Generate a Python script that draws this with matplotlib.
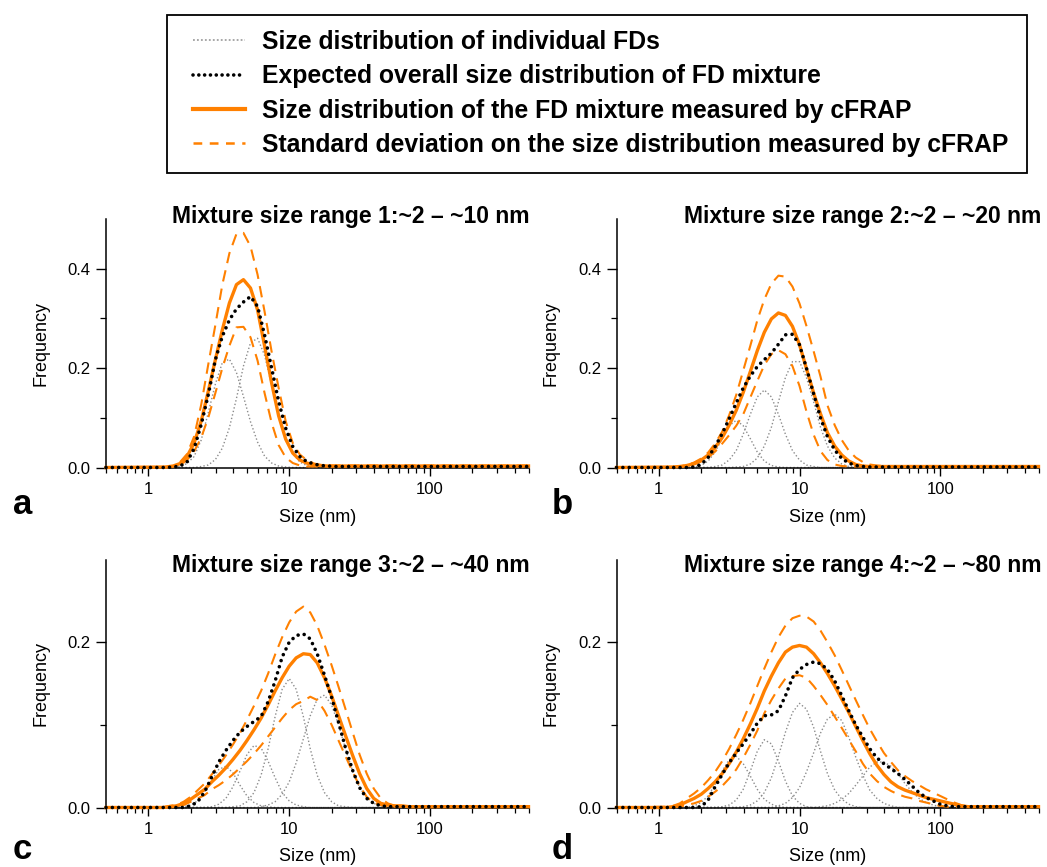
import matplotlib
matplotlib.use("Agg")
import matplotlib.pyplot as plt
from matplotlib.ticker import LogLocator, NullFormatter, FixedLocator
from matplotlib.lines import Line2D
from matplotlib.patches import Rectangle

plt.rcParams['font.family'] = ['Liberation Sans', 'DejaVu Sans']

ORANGE = '#FF8000'
GRAY = '#8C8C8C'

# ---------------- panel a: mixture size range 1 ----------------
SIZES_A = [1.33, 1.50, 1.68, 1.88, 2.11, 2.37, 2.66, 2.99, 3.35, 3.76, 4.22, 4.73, 5.31,
           5.96, 6.68, 7.50, 8.41, 9.44, 10.6, 11.9, 13.3, 15.0, 16.8, 18.8, 21.1, 23.7]
A_FD1 = [0.000, 0.001, 0.002, 0.008, 0.022, 0.055, 0.110, 0.168, 0.211, 0.218, 0.191, 0.143, 0.092,
         0.051, 0.023, 0.009, 0.003, 0.001, 0, 0, 0, 0, 0, 0, 0, 0]
A_FD2 = [0, 0, 0, 0, 0, 0.002, 0.005, 0.016, 0.039, 0.080, 0.139, 0.204, 0.251,
         0.260, 0.226, 0.166, 0.108, 0.060, 0.028, 0.011, 0.004, 0.001, 0, 0, 0, 0]
A_EXPECTED = [0.000, 0.001, 0.003, 0.011, 0.038, 0.086, 0.146, 0.217, 0.264, 0.297, 0.319, 0.333, 0.344,
              0.324, 0.267, 0.200, 0.133, 0.079, 0.042, 0.022, 0.012, 0.007, 0.004, 0.003, 0.002, 0.002]
A_MEASURED = [0.001, 0.003, 0.008, 0.022, 0.049, 0.093, 0.153, 0.217, 0.277, 0.331, 0.368, 0.378, 0.361,
              0.317, 0.245, 0.170, 0.104, 0.057, 0.029, 0.015, 0.009, 0.005, 0.004, 0.003, 0.003, 0.003]
A_SD_HIGH = [0.001, 0.003, 0.011, 0.027, 0.062, 0.126, 0.207, 0.287, 0.368, 0.431, 0.470, 0.472, 0.445,
             0.388, 0.314, 0.233, 0.160, 0.093, 0.049, 0.026, 0.015, 0.008, 0.005, 0.004, 0.004, 0.004]
A_SD_LOW = [0.000, 0.002, 0.005, 0.015, 0.032, 0.060, 0.100, 0.150, 0.200, 0.245, 0.282, 0.283, 0.262,
            0.215, 0.150, 0.090, 0.045, 0.020, 0.009, 0.004, 0.002, 0.002, 0.002, 0.002, 0.002, 0.002]

# ---------------- panel b: mixture size range 2 ----------------
SIZES_B = [1.26, 1.41, 1.58, 1.78, 2.00, 2.24, 2.51, 2.82, 3.16, 3.55, 3.98, 4.47, 5.01, 5.62, 6.31,
           7.08, 7.94, 8.91, 10.0, 11.2, 12.6, 14.1, 15.8, 17.8, 20.0, 22.4, 25.1, 28.2, 31.6, 35.5, 39.8]
B_FD1 = [0, 0, 0, 0.001, 0.004, 0.013, 0.031, 0.058, 0.084, 0.095, 0.084, 0.058, 0.031, 0.013, 0.004,
         0.001, 0, 0, 0, 0, 0, 0, 0, 0, 0, 0, 0, 0, 0, 0, 0]
B_FD2 = [0, 0, 0, 0, 0, 0, 0.002, 0.005, 0.015, 0.034, 0.067, 0.107, 0.142, 0.156, 0.142,
         0.107, 0.067, 0.034, 0.015, 0.005, 0.002, 0, 0, 0, 0, 0, 0, 0, 0, 0, 0]
B_FD3 = [0, 0, 0, 0, 0, 0, 0, 0, 0, 0.001, 0.002, 0.007, 0.019, 0.043, 0.081,
         0.132, 0.181, 0.213, 0.213, 0.181, 0.132, 0.081, 0.043, 0.019, 0.007, 0.002, 0.001, 0, 0, 0, 0]
B_EXPECTED = [0, 0, 0, 0.001, 0.006, 0.020, 0.042, 0.068, 0.098, 0.130, 0.160, 0.184, 0.203, 0.217, 0.230,
              0.248, 0.267, 0.268, 0.247, 0.200, 0.148, 0.100, 0.062, 0.035, 0.018, 0.009, 0.004, 0.002,
              0.001, 0.001, 0.001]
B_MEASURED = [0.001, 0.002, 0.004, 0.008, 0.015, 0.025, 0.040, 0.060, 0.085, 0.115, 0.151, 0.193, 0.235,
              0.272, 0.299, 0.311, 0.306, 0.284, 0.247, 0.199, 0.150, 0.108, 0.070, 0.043, 0.025, 0.013,
              0.006, 0.003, 0.002, 0.002, 0.002]
B_SD_HIGH = [0.001, 0.002, 0.005, 0.010, 0.018, 0.030, 0.048, 0.072, 0.105, 0.146, 0.195, 0.245, 0.296,
             0.338, 0.370, 0.386, 0.384, 0.364, 0.330, 0.285, 0.234, 0.183, 0.125, 0.085, 0.055, 0.034,
             0.020, 0.011, 0.006, 0.004, 0.003]
B_SD_LOW = [0.001, 0.001, 0.003, 0.006, 0.012, 0.020, 0.032, 0.048, 0.065, 0.084, 0.107, 0.141, 0.174,
            0.206, 0.228, 0.236, 0.228, 0.204, 0.164, 0.113, 0.066, 0.033, 0.015, 0.006, 0.003, 0.002,
            0.002, 0.002, 0.002, 0.002, 0.002]

# ---------------- panel c: mixture size range 3 ----------------
SIZES_C = [1.26, 1.41, 1.58, 1.78, 2.00, 2.24, 2.51, 2.82, 3.16, 3.55, 3.98, 4.47, 5.01, 5.62, 6.31,
           7.08, 7.94, 8.91, 10.0, 11.2, 12.6, 14.1, 15.8, 17.8, 20.0, 22.4, 25.1, 28.2, 31.6, 35.5,
           39.8, 44.7, 50.1, 56.2, 63.1, 70.8]
C_FD1 = [0, 0, 0, 0.001, 0.003, 0.008, 0.019, 0.033, 0.046, 0.050, 0.042, 0.027, 0.014, 0.006, 0.002,
         0.001, 0, 0, 0, 0, 0, 0, 0, 0, 0, 0, 0, 0, 0, 0, 0, 0, 0, 0, 0, 0]
C_FD2 = [0, 0, 0, 0, 0, 0, 0, 0.001, 0.004, 0.011, 0.025, 0.044, 0.064, 0.075, 0.072,
         0.056, 0.036, 0.018, 0.008, 0.003, 0.001, 0, 0, 0, 0, 0, 0, 0, 0, 0, 0, 0, 0, 0, 0, 0]
C_FD3 = [0, 0, 0, 0, 0, 0, 0, 0, 0, 0, 0.001, 0.002, 0.007, 0.018, 0.039,
         0.071, 0.110, 0.143, 0.156, 0.143, 0.110, 0.071, 0.039, 0.018, 0.007, 0.002, 0.001,
         0, 0, 0, 0, 0, 0, 0, 0, 0]
C_FD4 = [0, 0, 0, 0, 0, 0, 0, 0, 0, 0, 0, 0, 0, 0.000, 0.001,
         0.003, 0.007, 0.016, 0.031, 0.054, 0.083, 0.111, 0.131, 0.136, 0.124, 0.100, 0.071,
         0.044, 0.024, 0.012, 0.005, 0.002, 0.001, 0, 0, 0]
C_EXPECTED = [0, 0, 0, 0.000, 0.002, 0.007, 0.019, 0.037, 0.055, 0.069, 0.081, 0.091, 0.098, 0.104, 0.110,
              0.128, 0.153, 0.182, 0.200, 0.208, 0.210, 0.204, 0.186, 0.160, 0.133, 0.103, 0.072, 0.045,
              0.024, 0.011, 0.005, 0.002, 0.001, 0.001, 0.001, 0.001]
C_MEASURED = [0.000, 0.001, 0.002, 0.005, 0.010, 0.016, 0.022, 0.031, 0.039, 0.048, 0.058, 0.069, 0.081,
              0.094, 0.108, 0.124, 0.141, 0.157, 0.171, 0.181, 0.186, 0.185, 0.175, 0.157, 0.135, 0.111,
              0.087, 0.063, 0.041, 0.023, 0.011, 0.005, 0.003, 0.002, 0.002, 0.001]
C_SD_HIGH = [0.000, 0.002, 0.003, 0.007, 0.013, 0.021, 0.029, 0.040, 0.051, 0.063, 0.076, 0.090, 0.106,
             0.123, 0.141, 0.162, 0.185, 0.206, 0.224, 0.237, 0.243, 0.236, 0.220, 0.197, 0.172, 0.146,
             0.119, 0.091, 0.064, 0.041, 0.023, 0.011, 0.005, 0.002, 0.001, 0.001]
C_SD_LOW = [0.000, 0.000, 0.001, 0.003, 0.007, 0.011, 0.015, 0.022, 0.027, 0.033, 0.040, 0.048, 0.056,
            0.065, 0.075, 0.086, 0.097, 0.108, 0.118, 0.125, 0.129, 0.134, 0.130, 0.117, 0.100, 0.081,
            0.062, 0.043, 0.026, 0.013, 0.006, 0.003, 0.001, 0.001, 0.001, 0.001]

# ---------------- panel d: mixture size range 4 ----------------
SIZES_D = [1.12, 1.26, 1.41, 1.58, 1.78, 2.00, 2.24, 2.51, 2.82, 3.16, 3.55, 3.98, 4.47, 5.01, 5.62,
           6.31, 7.08, 7.94, 8.91, 10.0, 11.2, 12.6, 14.1, 15.8, 17.8, 20.0, 22.4, 25.1, 28.2, 31.6,
           35.5, 39.8, 44.7, 50.1, 56.2, 63.1, 70.8, 79.4, 89.1, 100, 112, 126, 141, 158, 178, 200]
D_FD1 = [0, 0, 0, 0.000, 0.002, 0.006, 0.014, 0.028, 0.044, 0.058, 0.062, 0.053, 0.038, 0.022, 0.010,
         0.004, 0.001, 0, 0, 0, 0, 0, 0, 0, 0, 0, 0, 0, 0, 0,
         0, 0, 0, 0, 0, 0, 0, 0, 0, 0, 0, 0, 0, 0, 0, 0]
D_FD2 = [0, 0, 0, 0, 0, 0, 0, 0, 0.001, 0.003, 0.009, 0.022, 0.044, 0.068, 0.082,
         0.077, 0.056, 0.032, 0.014, 0.005, 0.001, 0, 0, 0, 0, 0, 0, 0, 0, 0,
         0, 0, 0, 0, 0, 0, 0, 0, 0, 0, 0, 0, 0, 0, 0, 0]
D_FD3 = [0, 0, 0, 0, 0, 0, 0, 0, 0, 0, 0, 0.001, 0.003, 0.008, 0.018,
         0.036, 0.062, 0.091, 0.115, 0.126, 0.119, 0.097, 0.068, 0.041, 0.021, 0.010, 0.004, 0.001, 0, 0,
         0, 0, 0, 0, 0, 0, 0, 0, 0, 0, 0, 0, 0, 0, 0, 0]
D_FD4 = [0, 0, 0, 0, 0, 0, 0, 0, 0, 0, 0, 0, 0, 0, 0,
         0, 0.002, 0.005, 0.012, 0.024, 0.043, 0.066, 0.090, 0.107, 0.113, 0.105, 0.085, 0.061, 0.039, 0.021,
         0.011, 0.005, 0.002, 0.000, 0, 0, 0, 0, 0, 0, 0, 0, 0, 0, 0, 0]
D_FD5 = [0, 0, 0, 0, 0, 0, 0, 0, 0, 0, 0, 0, 0, 0, 0,
         0, 0, 0, 0, 0, 0, 0, 0.001, 0.002, 0.005, 0.010, 0.017, 0.027, 0.038, 0.049,
         0.055, 0.055, 0.050, 0.041, 0.029, 0.019, 0.011, 0.006, 0.003, 0.001, 0, 0, 0, 0, 0, 0]
D_EXPECTED = [0, 0, 0, 0, 0.000, 0.001, 0.009, 0.025, 0.040, 0.054, 0.066, 0.077, 0.089, 0.102, 0.111,
              0.112, 0.117, 0.135, 0.157, 0.167, 0.173, 0.176, 0.174, 0.167, 0.153, 0.135, 0.117, 0.100,
              0.085, 0.071, 0.060, 0.053, 0.047, 0.041, 0.034, 0.026, 0.018, 0.012, 0.008, 0.004, 0.002,
              0.001, 0.001, 0.001, 0.001, 0.001]
D_MEASURED = [0.000, 0.001, 0.003, 0.007, 0.011, 0.016, 0.023, 0.031, 0.041, 0.053, 0.067, 0.083, 0.101,
              0.120, 0.141, 0.159, 0.175, 0.188, 0.194, 0.196, 0.194, 0.186, 0.175, 0.162, 0.147, 0.131,
              0.115, 0.098, 0.081, 0.065, 0.051, 0.040, 0.031, 0.025, 0.021, 0.018, 0.015, 0.012, 0.010,
              0.008, 0.006, 0.004, 0.002, 0.001, 0.001, 0.001]
D_SD_HIGH = [0.001, 0.002, 0.005, 0.011, 0.017, 0.024, 0.033, 0.043, 0.056, 0.071, 0.088, 0.106, 0.126,
             0.147, 0.168, 0.188, 0.206, 0.220, 0.229, 0.232, 0.231, 0.225, 0.214, 0.200, 0.184, 0.166,
             0.148, 0.130, 0.112, 0.095, 0.080, 0.066, 0.055, 0.045, 0.038, 0.032, 0.027, 0.022, 0.018,
             0.014, 0.010, 0.006, 0.003, 0.001, 0.001, 0.001]
D_SD_LOW = [0.000, 0.000, 0.001, 0.003, 0.005, 0.008, 0.013, 0.019, 0.026, 0.035, 0.046, 0.060, 0.076,
            0.093, 0.114, 0.130, 0.144, 0.156, 0.159, 0.160, 0.157, 0.147, 0.136, 0.124, 0.110, 0.096,
            0.082, 0.068, 0.053, 0.041, 0.032, 0.025, 0.020, 0.016, 0.013, 0.011, 0.008, 0.006, 0.004,
            0.002, 0.001, 0.001, 0.001, 0.001, 0.001, 0.001]

TITLES = ['Mixture size range 1:~2 \u2013 ~10 nm', 'Mixture size range 2:~2 \u2013 ~20 nm',
          'Mixture size range 3:~2 \u2013 ~40 nm', 'Mixture size range 4:~2 \u2013 ~80 nm']
LETTERS = ['a', 'b', 'c', 'd']
LEGEND_LABELS = ['Size distribution of individual FDs',
                 'Expected overall size distribution of FD mixture',
                 'Size distribution of the FD mixture measured by cFRAP',
                 'Standard deviation on the size distribution measured by cFRAP']

PANELS = [
    dict(sizes=SIZES_A, fds=[A_FD1, A_FD2], expected=A_EXPECTED, measured=A_MEASURED,
         low=A_SD_LOW, high=A_SD_HIGH, ymax=0.5, yticks=[0.0, 0.2, 0.4], yminor=[0.1, 0.3]),
    dict(sizes=SIZES_B, fds=[B_FD1, B_FD2, B_FD3], expected=B_EXPECTED, measured=B_MEASURED,
         low=B_SD_LOW, high=B_SD_HIGH, ymax=0.5, yticks=[0.0, 0.2, 0.4], yminor=[0.1, 0.3]),
    dict(sizes=SIZES_C, fds=[C_FD1, C_FD2, C_FD3, C_FD4], expected=C_EXPECTED, measured=C_MEASURED,
         low=C_SD_LOW, high=C_SD_HIGH, ymax=0.3, yticks=[0.0, 0.2], yminor=[0.1]),
    dict(sizes=SIZES_D, fds=[D_FD1, D_FD2, D_FD3, D_FD4, D_FD5], expected=D_EXPECTED, measured=D_MEASURED,
         low=D_SD_LOW, high=D_SD_HIGH, ymax=0.3, yticks=[0.0, 0.2], yminor=[0.1]),
]

# ---------------- styles ----------------
FD_STYLE = dict(color=GRAY, lw=1.0, ls=(0, (1, 1.6)))
EXP_STYLE = dict(color='black', lw=2.6, ls=(0, (0.01, 1.75)), dash_capstyle='round')
MEAS_STYLE = dict(color=ORANGE, lw=2.4)
SD_STYLE = dict(color=ORANGE, lw=1.5, ls=(0, (5.5, 3.5)))

W, H = 1047, 867
fig = plt.figure(figsize=(W / 100, H / 100), dpi=100)

# axes boxes in pixels: left, top, right, bottom
BOXES = [(106, 219, 528.5, 467.5), (616.5, 219, 1038.5, 467.5),
         (106, 559.5, 528.5, 807.5), (616.5, 559.5, 1038.5, 807.5)]
TITLE_POS = [(530, 223), (1041, 223), (530, 572), (1041, 572)]
LETTER_POS = [(13, 514), (552, 514), (13, 859), (552, 859)]


def padded(sizes, values):
    xs = [0.5] + list(sizes) + [500]
    ys = [0.0] + list(values) + [values[-1]]
    return xs, ys


for i, p in enumerate(PANELS):
    l, t, r, b = BOXES[i]
    ax = fig.add_axes([l / W, 1 - b / H, (r - l) / W, (b - t) / H])
    ax.set_xscale('log')
    ax.set_xlim(0.5, 500)
    ax.set_ylim(0, p['ymax'])

    for fd in p['fds']:
        ax.plot(*padded(p['sizes'], fd), clip_on=False, zorder=2, **FD_STYLE)
    ax.plot(*padded(p['sizes'], p['high']), clip_on=False, zorder=3, **SD_STYLE)
    ax.plot(*padded(p['sizes'], p['low']), clip_on=False, zorder=3, **SD_STYLE)
    ax.plot(*padded(p['sizes'], p['measured']), clip_on=False, zorder=4, **MEAS_STYLE)
    ax.plot(*padded(p['sizes'], p['expected']), clip_on=False, zorder=5, **EXP_STYLE)

    for side in ('top', 'right'):
        ax.spines[side].set_visible(False)
    for side in ('left', 'bottom'):
        ax.spines[side].set_linewidth(1.1)

    ax.set_xticks([1, 10, 100])
    ax.set_xticklabels(['1', '10', '100'])
    ax.xaxis.set_minor_locator(LogLocator(base=10, subs=range(2, 10), numticks=20))
    ax.xaxis.set_minor_formatter(NullFormatter())
    ax.set_yticks(p['yticks'])
    ax.set_yticklabels([f'{v:.1f}' for v in p['yticks']])
    ax.yaxis.set_minor_locator(FixedLocator(p['yminor']))

    ax.tick_params(axis='x', which='major', direction='out', length=5.5, width=1.0, pad=5, labelsize=12)
    ax.tick_params(axis='x', which='minor', direction='out', length=3.5, width=0.9)
    ax.tick_params(axis='y', which='major', direction='out', length=7, width=1.0, pad=4, labelsize=12)
    ax.tick_params(axis='y', which='minor', direction='out', length=4, width=0.9)

    ax.set_xlabel('Size (nm)', fontsize=13)
    ax.xaxis.set_label_coords(0.5, -0.165)
    ax.set_ylabel('Frequency', fontsize=13)
    ax.yaxis.label.set_verticalalignment('center')
    ax.yaxis.set_label_coords(-0.155, 0.5)

    tx, ty = TITLE_POS[i]
    fig.text(tx / W, 1 - ty / H, TITLES[i], ha='right', va='baseline', fontsize=16.5, fontweight='bold')
    lx, ly = LETTER_POS[i]
    fig.text(lx / W, 1 - ly / H, LETTERS[i], ha='left', va='baseline', fontsize=25, fontweight='bold')

# ---------------- legend ----------------
handles = [Line2D([], [], color='#A0A0A0', lw=1.3, ls=(0, (1, 1.2))),
           Line2D([], [], color='black', lw=2.6, ls=(0, (0.01, 1.6)), dash_capstyle='round'),
           Line2D([], [], color=ORANGE, lw=3.0),
           Line2D([], [], color=ORANGE, lw=1.8, ls=(0, (3.5, 3.0)))]
fig.legend(handles, LEGEND_LABELS, loc='upper left', bbox_to_anchor=(193 / W, 1 - 30 / H),
           frameon=False, borderpad=0, borderaxespad=0, handlelength=2.1, handletextpad=0.68,
           labelspacing=0.42, prop={'family': 'Liberation Sans', 'weight': 'bold', 'size': 17.8})
fig.add_artist(Rectangle((166.5 / W, 1 - 173 / H), (1027 - 166.5) / W, (173 - 14.7) / H,
                         transform=fig.transFigure, fill=False, lw=1.3, ec='black'))

fig.savefig('out.png', dpi=100)
